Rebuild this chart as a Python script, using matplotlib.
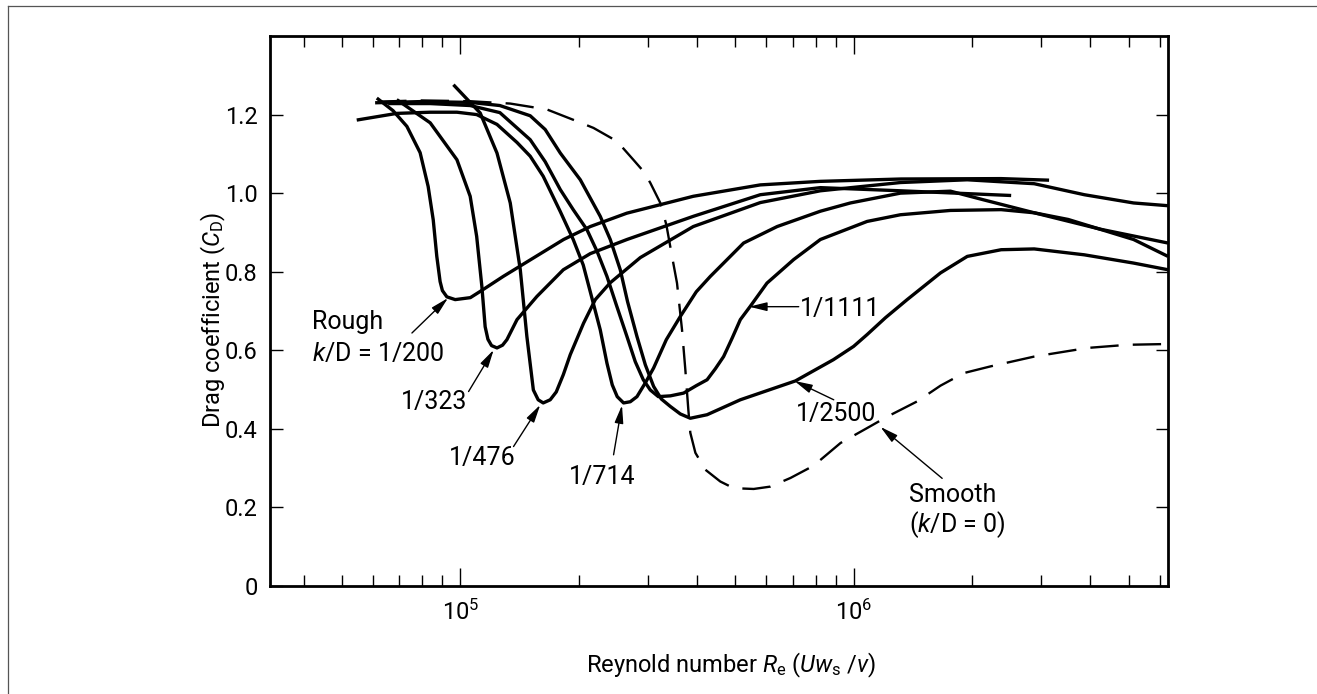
import matplotlib
matplotlib.use("Agg")
import matplotlib.pyplot as plt
from matplotlib.lines import Line2D
from matplotlib.ticker import LogLocator, FixedLocator, NullFormatter

plt.rcParams['font.family'] = ['Roboto', 'DejaVu Sans']
plt.rcParams['mathtext.fontset'] = 'custom'
plt.rcParams['mathtext.rm'] = 'Roboto'
plt.rcParams['mathtext.it'] = 'Roboto:italic'
plt.rcParams['mathtext.bf'] = 'Roboto:bold'

# drag coefficient curves (Re, CD)
re_200 = [6.13e4, 6.74e4, 7.31e4, 7.90e4, 8.28e4, 8.53e4, 8.71e4, 8.88e4, 9.0e4, 9.24e4,
          9.70e4, 1.06e5, 1.14e5, 1.285e5, 1.505e5, 1.83e5, 2.14e5, 2.65e5, 3.91e5,
          5.79e5, 8.23e5, 1.32e6, 2.37e6, 3.14e6]
cd_200 = [1.242, 1.21, 1.170, 1.103, 1.017, 0.932, 0.839, 0.775, 0.752, 0.736,
          0.729, 0.734, 0.754, 0.788, 0.830, 0.882, 0.915, 0.949, 0.992,
          1.021, 1.030, 1.036, 1.037, 1.033]

re_323 = [6.89e4, 8.38e4, 9.80e4, 1.059e5, 1.10e5, 1.134e5, 1.156e5, 1.175e5, 1.20e5,
          1.239e5, 1.28e5, 1.313e5, 1.393e5, 1.565e5, 1.827e5, 2.139e5, 2.652e5,
          3.911e5, 5.79e5, 8.23e5, 1.315e6, 2.515e6]
cd_323 = [1.238, 1.179, 1.085, 0.992, 0.890, 0.7625, 0.660, 0.628, 0.612,
          0.606, 0.613, 0.627, 0.678, 0.737, 0.805, 0.846, 0.882,
          0.941, 0.996, 1.014, 1.006, 0.994]

re_476 = [9.6e4, 1.123e5, 1.239e5, 1.339e5, 1.42e5, 1.476e5, 1.533e5, 1.577e5, 1.624e5,
          1.692e5, 1.753e5, 1.827e5, 1.903e5, 2.057e5, 2.203e5, 2.405e5, 2.868e5,
          3.911e5, 5.79e5, 8.23e5, 1.315e6, 1.945e6, 2.878e6, 3.86e6, 5.15e6, 6.3e6]
cd_476 = [1.276, 1.204, 1.102, 0.975, 0.805, 0.635, 0.499, 0.474, 0.466,
          0.474, 0.494, 0.538, 0.589, 0.669, 0.729, 0.772, 0.836,
          0.915, 0.976, 1.006, 1.027, 1.034, 1.024, 0.996, 0.975, 0.968]

re_714 = [5.45e4, 6.89e4, 8.38e4, 9.8e4, 1.10e5, 1.239e5, 1.393e5, 1.505e5, 1.624e5,
          1.795e5, 1.936e5, 2.053e5, 2.177e5, 2.268e5, 2.359e5, 2.433e5, 2.505e5,
          2.60e5, 2.704e5, 2.812e5, 2.953e5, 3.10e5, 3.339e5, 3.624e5, 3.98e5,
          4.32e5, 5.25e5, 6.39e5, 8.23e5, 9.81e5, 1.315e6, 1.763e6, 2.139e6,
          2.878e6, 4.25e6, 6.3e6]
cd_714 = [1.186, 1.203, 1.206, 1.206, 1.200, 1.175, 1.129, 1.094, 1.043,
          0.953, 0.882, 0.817, 0.720, 0.652, 0.567, 0.512, 0.482,
          0.466, 0.469, 0.482, 0.517, 0.555, 0.627, 0.686, 0.749,
          0.788, 0.873, 0.915, 0.954, 0.975, 1.000, 1.005, 0.983,
          0.950, 0.908, 0.873]

re_1111 = [6.55e4, 8.38e4, 1.059e5, 1.26e5, 1.505e5, 1.643e5, 1.795e5, 1.936e5, 2.098e5,
           2.228e5, 2.359e5, 2.491e5, 2.652e5, 2.784e5, 2.918e5, 3.04e5, 3.187e5,
           3.419e5, 3.695e5, 3.98e5, 4.24e5, 4.45e5, 4.67e5, 4.915e5, 5.15e5, 5.46e5,
           6.02e5, 7.04e5, 8.23e5, 1.082e6, 1.315e6, 1.763e6, 2.372e6, 2.878e6,
           3.512e6, 5.15e6, 6.3e6]
cd_1111 = [1.228, 1.228, 1.223, 1.205, 1.136, 1.080, 1.009, 0.958, 0.907,
           0.851, 0.788, 0.716, 0.635, 0.571, 0.525, 0.499, 0.482,
           0.484, 0.491, 0.510, 0.525, 0.553, 0.584, 0.632, 0.678, 0.712,
           0.771, 0.831, 0.882, 0.928, 0.945, 0.956, 0.958, 0.950,
           0.933, 0.882, 0.839]

re_2500 = [6.07e4, 7.9e4, 1.059e5, 1.26e5, 1.505e5, 1.643e5, 1.795e5, 2.018e5, 2.268e5,
           2.405e5, 2.55e5, 2.661e5, 2.812e5, 2.953e5, 3.10e5, 3.243e5, 3.419e5,
           3.624e5, 3.843e5, 4.24e5, 5.15e5, 7.11e5, 8.88e5, 1.0e6, 1.082e6, 1.205e6,
           1.368e6, 1.663e6, 1.945e6, 2.372e6, 2.878e6, 3.86e6, 5.15e6, 6.3e6]
cd_2500 = [1.230, 1.233, 1.231, 1.223, 1.197, 1.162, 1.102, 1.034, 0.941,
           0.882, 0.805, 0.724, 0.635, 0.563, 0.508, 0.476, 0.457,
           0.438, 0.427, 0.436, 0.474, 0.522, 0.576, 0.610, 0.640, 0.683,
           0.729, 0.797, 0.839, 0.856, 0.858, 0.843, 0.822, 0.805]

re_smooth = [6.18e4, 7.9e4, 1.059e5, 1.339e5, 1.66e5, 1.979e5, 2.18e5, 2.502e5, 2.753e5,
             2.924e5, 3.041e5, 3.224e5, 3.339e5, 3.453e5, 3.555e5, 3.661e5, 3.733e5,
             3.799e5, 3.843e5, 3.959e5, 4.197e5, 4.58e5, 4.954e5, 5.57e5, 6.14e5,
             6.908e5, 7.904e5, 9.26e5, 1.082e6, 1.217e6, 1.451e6, 1.663e6, 1.906e6,
             2.228e6, 2.878e6, 3.934e6, 4.973e6, 6.3e6]
cd_smooth = [1.233, 1.236, 1.234, 1.228, 1.213, 1.183, 1.166, 1.132, 1.085,
             1.055, 1.026, 0.975, 0.92, 0.839, 0.771, 0.652, 0.550,
             0.448, 0.390, 0.339, 0.296, 0.266, 0.249, 0.247, 0.253,
             0.275, 0.306, 0.364, 0.402, 0.431, 0.470, 0.510, 0.542,
             0.559, 0.584, 0.606, 0.614, 0.616]

yticks = [0, 0.2, 0.4, 0.6, 0.8, 1.0, 1.2]
ytick_labels = ['0', '0.2', '0.4', '0.6', '0.8', '1.0', '1.2']
xticks = [1e5, 1e6]
xtick_labels = [r'$10^{5}$', r'$10^{6}$']

# curve labels: text, text position, alignment, arrow tail, arrow tip
labels = [
    ('Rough', (4.2e4, 0.654), 'left', None, None),
    (r'$k$/D = 1/200', (4.2e4, 0.574), 'left', (7.53e4, 0.644), (9.3e4, 0.733)),
    ('1/323', (1.04e5, 0.450), 'right', (1.049e5, 0.495), (1.215e5, 0.601)),
    ('1/476', (1.379e5, 0.308), 'right', (1.365e5, 0.355), (1.596e5, 0.461)),
    ('1/714', (2.295e5, 0.259), 'center', (2.452e5, 0.334), (2.576e5, 0.460)),
    ('1/1111', (7.32e5, 0.688), 'left', (7.25e5, 0.711), (5.42e5, 0.711)),
    ('1/2500', (9.04e5, 0.419), 'center', (8.9e5, 0.474), (7.07e5, 0.522)),
    ('Smooth', (1.379e6, 0.215), 'left', (1.679e6, 0.274), (1.17e6, 0.405)),
    (r'($k$/D = 0)', (1.379e6, 0.138), 'left', None, None),
]

W, H = 1317, 694
fig = plt.figure(figsize=(W / 100, H / 100), dpi=100)
ax = fig.add_axes([270 / W, (H - 586) / H, 898 / W, 550 / H])

lw = 2.4
for re, cd in [(re_200, cd_200), (re_323, cd_323), (re_476, cd_476), (re_714, cd_714),
               (re_1111, cd_1111), (re_2500, cd_2500)]:
    ax.plot(re, cd, color='black', lw=lw, solid_joinstyle='round', solid_capstyle='butt')
ax.plot(re_smooth, cd_smooth, color='black', lw=1.7, linestyle=(0, (12, 6)))

ax.set_xscale('log')
ax.set_xlim(3.28e4, 6.3e6)
ax.set_ylim(0, 1.4)

ax.xaxis.set_major_locator(FixedLocator(xticks))
ax.set_xticklabels(xtick_labels)
ax.xaxis.set_minor_locator(LogLocator(base=10, subs=range(2, 10)))
ax.xaxis.set_minor_formatter(NullFormatter())
ax.yaxis.set_major_locator(FixedLocator(yticks))
ax.set_yticklabels(ytick_labels)

ax.tick_params(axis='x', which='major', direction='in', length=13, width=1,
               top=True, pad=10, labelsize=17)
ax.tick_params(axis='x', which='minor', direction='in', length=8, width=1, top=True)
ax.tick_params(axis='y', which='major', direction='in', length=9, width=1,
               right=True, pad=9, labelsize=17)
for sp in ax.spines.values():
    sp.set_linewidth(2)

for text, pos, ha, tail, tip in labels:
    ax.text(pos[0], pos[1], text, ha=ha, va='baseline', fontsize=18)
    if tail is not None:
        ax.annotate('', xy=tip, xytext=tail,
                    arrowprops=dict(arrowstyle='-|>,head_length=0.9,head_width=0.22',
                                    lw=1, color='black', mutation_scale=12,
                                    shrinkA=0, shrinkB=0))

fig.text(731 / W, 1 - 665 / H, r'Reynold number $R_{\mathrm{e}}$ ($Uw_{\mathrm{s}}$ /$v$)',
         ha='center', va='center', fontsize=17)
fig.text(213 / W, 1 - 320 / H, r'Drag coefficient ($C_{\mathrm{D}}$)',
         ha='center', va='center', rotation=90, fontsize=17)

# thin outer frame, open to the right and bottom
fig.add_artist(Line2D([8 / W, 1], [1 - 6 / H, 1 - 6 / H], transform=fig.transFigure,
                      color='#555555', lw=0.9))
fig.add_artist(Line2D([8 / W, 8 / W], [0, 1 - 6 / H], transform=fig.transFigure,
                      color='#555555', lw=0.9))

fig.savefig('out.png', dpi=100)
